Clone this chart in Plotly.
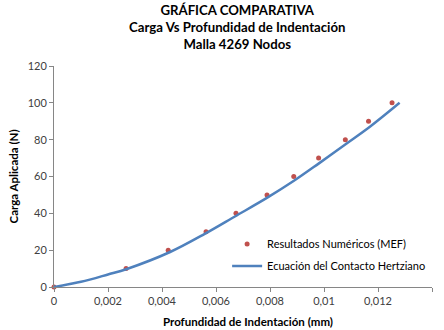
import plotly.graph_objects as go

# Numerical (FEM) results
mef_depth = [0, 0.00267, 0.00423, 0.00563, 0.00674, 0.00789, 0.00888, 0.0098, 0.01079, 0.01165, 0.01252]
mef_load = [0, 10, 20, 30, 40, 50, 60, 70, 80, 90, 100]

# Hertzian contact equation curve
hertz_depth = [0, 0.001, 0.002, 0.0027, 0.0043, 0.0056, 0.0067, 0.0079, 0.0089, 0.0098, 0.0108, 0.0117, 0.0128]
hertz_load = [0, 2.8, 6.8, 9.8, 19.0, 29.0, 38.3, 48.5, 57.8, 67.0, 77.5, 87.0, 100.0]

x_ticks = [0, 0.002, 0.004, 0.006, 0.008, 0.01, 0.012, 0.014]
y_ticks = [0, 20, 40, 60, 80, 100, 120]

title_lines = ["GRÁFICA COMPARATIVA", "Carga Vs Profundidad de Indentación", "Malla 4269 Nodos"]
x_title = "Profundidad de Indentación (mm)"
y_title = "Carga Aplicada (N)"

FONT = "Lato, 'Open Sans', sans-serif"
AXIS_COLOR = "#868686"
TEXT_COLOR = "#404040"

fig = go.Figure()
fig.add_trace(go.Scatter(
    x=mef_depth, y=mef_load, mode="markers",
    name="Resultados Numéricos (MEF)", legendgroup="mef",
    marker=dict(color="#C0504D", size=5),
    cliponaxis=False,
))
fig.add_trace(go.Scatter(
    x=hertz_depth, y=hertz_load, mode="lines",
    name="Ecuación del Contacto Hertziano", legendgroup="hertz",
    line=dict(color="#4F81BD", width=2.5, shape="spline"),
    cliponaxis=False,
))

# Three-line bold chart title placed above the plot area
fig.add_annotation(
    text="<b>" + "<br>".join(title_lines) + "</b>",
    xref="paper", yref="paper", x=0.484, y=1.175,
    xanchor="center", yanchor="middle", showarrow=False,
    font=dict(family=FONT, size=13.2, color="black"),
)
# Axis titles
fig.add_annotation(
    text="<b>" + x_title + "</b>",
    xref="paper", yref="paper", x=0.513, y=-0.155,
    xanchor="center", yanchor="middle", showarrow=False,
    font=dict(family=FONT, size=11.5, color="black"),
)
fig.add_annotation(
    text="<b>" + y_title + "</b>",
    xref="paper", yref="paper", x=-0.106, y=0.5,
    xanchor="center", yanchor="middle", showarrow=False, textangle=-90,
    font=dict(family=FONT, size=11.5, color="black"),
)

fig.update_layout(
    width=444, height=330,
    margin=dict(l=54, r=12, t=66, b=43),
    paper_bgcolor="white", plot_bgcolor="white",
    separators=",.",
    font=dict(family=FONT, size=11, color=TEXT_COLOR),
    xaxis=dict(
        range=[0, 0.014], tickvals=x_ticks, showgrid=False, zeroline=False,
        showline=True, linecolor=AXIS_COLOR, linewidth=1,
        ticks="outside", ticklen=4, tickcolor=AXIS_COLOR,
        tickfont=dict(size=11, color=TEXT_COLOR), automargin=False,
    ),
    yaxis=dict(
        range=[0, 120], tickvals=y_ticks, showgrid=False, zeroline=False,
        showline=True, linecolor=AXIS_COLOR, linewidth=1,
        ticks="outside", ticklen=4, tickcolor=AXIS_COLOR,
        tickfont=dict(size=11, color=TEXT_COLOR), automargin=False,
    ),
    legend=dict(
        x=0.458, y=0.26, xanchor="left", yanchor="top",
        bgcolor="rgba(0,0,0,0)", font=dict(size=11, color="black"),
        itemwidth=30, tracegroupgap=3,
    ),
)

fig.write_html("out.html")
